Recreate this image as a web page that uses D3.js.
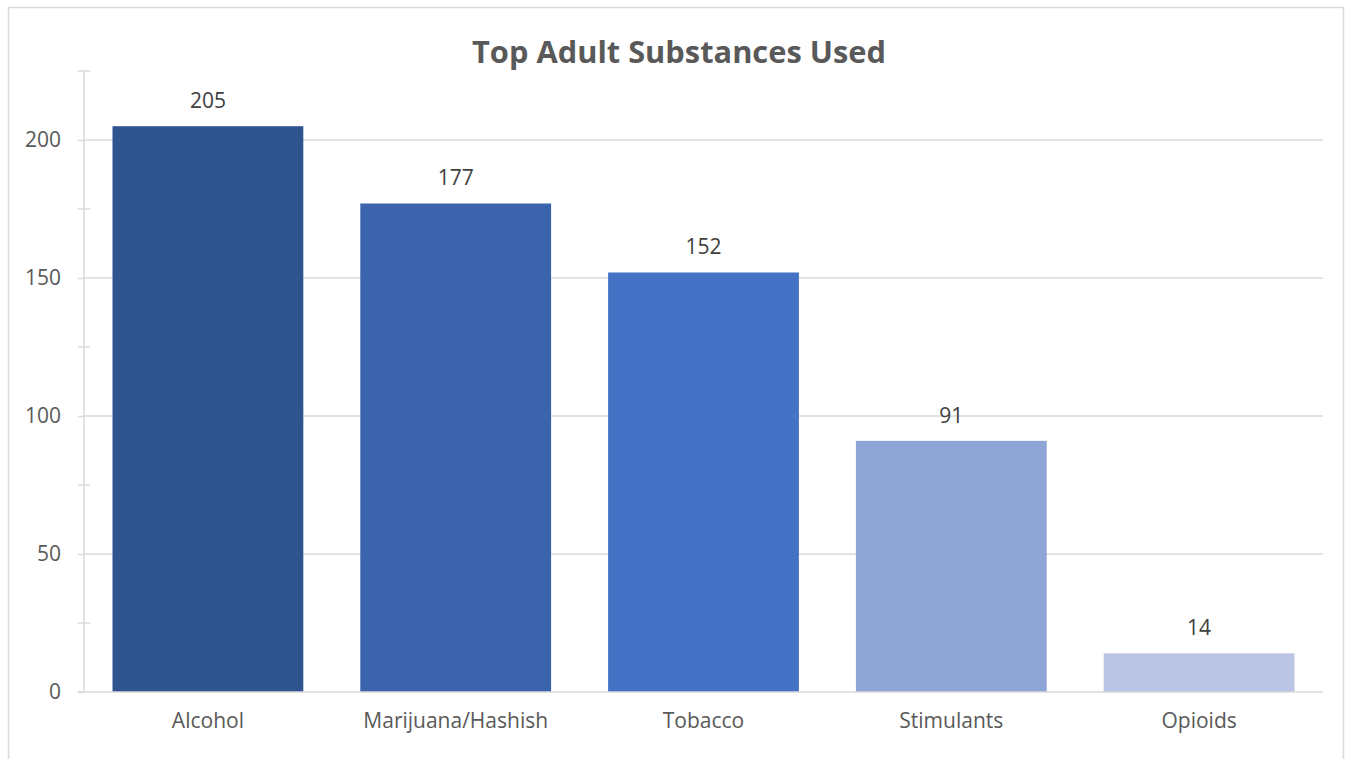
<!DOCTYPE html>
<html>
<head>
<meta charset="utf-8">
<script src="https://cdn.jsdelivr.net/npm/d3@7"></script>
<style>
  body { margin: 0; background: #fff; }
  text { font-family: "Open Sans", "Noto Sans", sans-serif; }
</style>
</head>
<body>
<div id="chart"></div>
<script>
const categories = ["Alcohol", "Marijuana/Hashish", "Tobacco", "Stimulants", "Opioids"]
const counts = [205, 177, 152, 91, 14]
const barColors = ["#30548f", "#3b64ad", "#4472c4", "#8fa5d5", "#bac4e4"]
const majorTicks = [0, 50, 100, 150, 200]
const minorTicks = [25, 75, 125, 175, 225]

const width = 1354
const height = 759
const plot = { left: 84, right: 1323, top: 71, bottom: 692 }

const svg = d3.select('#chart').append('svg').attr('width', width).attr('height', height)

// outer chart border
svg.append('rect')
    .attr('x', 8.5).attr('y', 7.5)
    .attr('width', 1335).attr('height', 770)
    .attr('fill', 'none')
    .attr('stroke', '#d9d9d9')
    .attr('stroke-width', 1.5)

const xScale = d3.scaleBand().domain(categories).range([plot.left, plot.right]).paddingInner(0.23).paddingOuter(0.115)
const yScale = d3.scaleLinear().domain([0, 225]).range([plot.bottom, plot.top])

// gridlines
svg.append('g').selectAll('line').data(majorTicks.filter(function(d) { return d > 0 }))
    .enter().append('line')
    .attr('x1', plot.left).attr('x2', plot.right)
    .attr('y1', function(d) { return yScale(d) }).attr('y2', function(d) { return yScale(d) })
    .attr('stroke', '#d9d9d9').attr('stroke-width', 1.5)

// y axis with major ticks outside
const yAxis = d3.axisLeft(yScale).tickValues(majorTicks).tickSize(6).tickPadding(17)
const yG = svg.append('g')
    .attr('class', 'axis y-axis')
    .attr('transform', 'translate(' + plot.left + ' 0)')
    .call(yAxis)
yG.select('.domain').remove()
yG.selectAll('line').attr('stroke', '#d9d9d9').attr('stroke-width', 1.5)
yG.selectAll('text').attr('font-size', '21px').attr('fill', '#595959').attr('font-family', '"Open Sans", sans-serif')

svg.append('line')
    .attr('x1', plot.left).attr('x2', plot.left)
    .attr('y1', plot.top).attr('y2', plot.bottom)
    .attr('stroke', '#d9d9d9').attr('stroke-width', 1.5)

// minor ticks crossing the axis
svg.append('g').selectAll('line').data(minorTicks)
    .enter().append('line')
    .attr('x1', plot.left - 6).attr('x2', plot.left + 6)
    .attr('y1', function(d) { return yScale(d) }).attr('y2', function(d) { return yScale(d) })
    .attr('stroke', '#d9d9d9').attr('stroke-width', 1.5)

// bars
svg.append('g').selectAll('rect').data(categories)
    .enter().append('rect')
    .attr('x', function(d) { return xScale(d) })
    .attr('width', xScale.bandwidth())
    .attr('y', function(d, i) { return yScale(counts[i]) })
    .attr('height', function(d, i) { return yScale(0) - yScale(counts[i]) })
    .attr('fill', function(d, i) { return barColors[i] })

// x axis
svg.append('line')
    .attr('x1', plot.left - 6).attr('x2', plot.right)
    .attr('y1', plot.bottom).attr('y2', plot.bottom)
    .attr('stroke', '#d9d9d9').attr('stroke-width', 1.5)

const xAxis = d3.axisBottom(xScale).tickSize(0).tickPadding(21)
const xG = svg.append('g')
    .attr('transform', 'translate(0 ' + plot.bottom + ')')
    .call(xAxis)
xG.select('.domain').remove()
xG.selectAll('text').attr('font-size', '21px').attr('fill', '#595959').attr('font-family', '"Open Sans", sans-serif')

// value labels
svg.append('g').selectAll('text').data(categories)
    .enter().append('text')
    .attr('x', function(d) { return xScale(d) + xScale.bandwidth() / 2 })
    .attr('y', function(d, i) { return yScale(counts[i]) - 18 })
    .attr('text-anchor', 'middle')
    .attr('font-size', '21px')
    .attr('fill', '#404040')
    .text(function(d, i) { return counts[i] })

// title
svg.append('text')
    .attr('x', 679)
    .attr('y', 63)
    .attr('text-anchor', 'middle')
    .attr('font-size', '31px')
    .attr('font-weight', 'bold')
    .attr('fill', '#595959')
    .attr('textLength', 414)
    .attr('lengthAdjust', 'spacingAndGlyphs')
    .text('Top Adult Substances Used')
</script>
</body>
</html>
